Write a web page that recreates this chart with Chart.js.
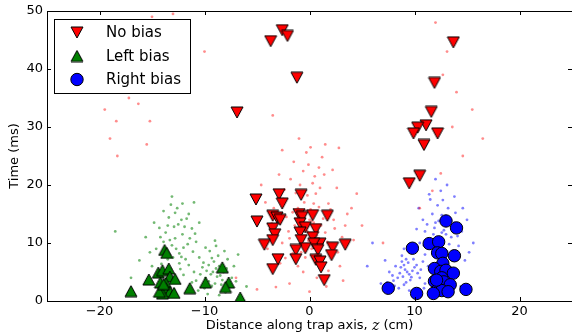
<!DOCTYPE html>
<html>
<head>
<meta charset="utf-8">
<script src="https://cdn.jsdelivr.net/npm/chart.js@4"></script>
<style>
  html, body { margin: 0; padding: 0; background: #fff; overflow: hidden; }
  #wrap { width: 580px; height: 334px; }
</style>
</head>
<body>
<div id="wrap"><canvas id="myChart" width="580" height="334"></canvas></div>
<script>
// axis ticks
const xTicks = [-20, -10, 0, 10, 20];
const yTicks = [0, 10, 20, 30, 40, 50];

// No bias (red, down triangles)
const noBiasX = [-2.6, -2.1, -3.7, -1.2, -6.9, 11.9, 11.6, 11.1, 10.3, 9.9, 12.2, 10.9, 10.5, 9.5, 13.7,
  -5.1, -2.9, -2.6, -0.8, -5.0, -3.5, -3.1, -2.8, -1.0, -0.7, 0.3, 1.7, -3.5, -0.9, -0.4, -3.3, -3.5, -0.9, 0.6,
  -4.3, -0.8, 0.3, 1.0, 0.4, -0.4, -1.3, 0.8, 2.2, 2.1, 3.4, -3.0, -1.3, 0.6, 1.0, 1.1, -3.5, 1.4];
const noBiasY = [46.7, 45.7, 44.8, 38.5, 32.5, 37.6, 32.6, 30.3, 29.9, 28.9, 28.9, 26.9, 21.6, 20.3, 44.6,
  17.5, 18.4, 16.8, 18.3, 13.7, 14.7, 14.4, 14.0, 15.0, 14.5, 14.8, 14.7, 12.5, 13.4, 12.7, 11.5, 10.5, 11.8, 12.4,
  9.7, 10.5, 11.0, 9.9, 9.9, 9.1, 8.8, 8.8, 9.2, 7.9, 9.7, 7.2, 7.2, 7.1, 6.8, 5.8, 5.5, 3.6];

// Left bias (green, up triangles)
const leftBiasX = [-17.0, -13.8, -13.6, -15.3, -14.4, -14.0, -13.4, -13.3, -12.8, -14.2, -13.7, -13.7,
  -13.3, -14.0, -14.3, -11.4, -9.9, -8.3, -7.7, -8.0, -6.6, -13.9, -12.9];
const leftBiasY = [1.7, 8.8, 8.3, 3.7, 4.9, 5.3, 5.6, 4.2, 3.8, 3.2, 3.1, 2.2,
  1.6, 1.3, 1.6, 2.2, 3.2, 5.8, 3.2, 2.4, 0.6, 2.9, 1.4];

// Right bias (blue circles)
const rightBiasX = [13.0, 14.0, 9.8, 11.4, 12.3, 12.2, 12.6, 13.8, 12.7, 11.9, 12.5, 13.0, 13.7,
  11.9, 12.6, 12.8, 13.4, 12.2, 12.6, 13.2, 11.8, 7.5, 10.2, 14.9, 12.1];
const rightBiasY = [13.8, 12.6, 9.1, 9.9, 10.2, 8.3, 8.2, 7.8, 6.5, 5.6, 5.1, 5.3, 4.8,
  3.4, 4.0, 3.3, 2.8, 1.9, 1.8, 1.6, 1.3, 2.2, 1.3, 2.0, 3.6];

// faint background clouds, hand-read [x, y]
const redCloud = [[-0.2,12],[0.4,13.5],[-0.8,11],[0.9,10.5],[-1.4,13],[1.3,14.2],[0.1,15.8],[-0.5,17],[0.6,18.5],
  [-1.1,16],[1.8,16.8],[-2.2,14.5],[2.4,12.5],[-2.6,10],[0.2,9],[-0.4,7.5],[1.1,7],[-1.6,8.2],[2,9.3],[-3,12.2],
  [3.1,11],[-0.9,20],[0.5,21.5],[-0.1,23.5],[1.2,24.8],[-1.8,21],[2.6,19.5],[-3.4,16],[3.6,15],[-0.6,5],[0.7,4],
  [-1.9,3],[1.6,2.5],[-2.8,6.5],[2.9,6],[-4,9],[4.2,10.5],[0.3,11],[-0.3,13],[0.8,12],[-1,14.6],[1.5,11.8],[-2,12],
  [0,14],[0.4,16.8],[-0.7,9.7],[1,19.5],[-1.3,18.6],[2.3,14],[-2.5,17.6],[0.1,26.5],[-1,28],[1.5,27],[-5,14],[5,13],
  [-4.6,20],[4.5,18.5],[-0.5,12.5],[0.2,13.8],[-0.9,14.2],[0.7,11.3],[-0.1,10.4],[0.5,15.2],[-1.2,12.2],[1.1,13],
  [-0.4,15.6],[0.9,16.2],[-1.6,15.3],[-0.2,18.2],[0.3,20.3],[-0.6,22.4],[1.4,21.8],[-2.4,19.2],[2,15.8],[1.7,10.2],
  [-1.9,10.8],[-0.8,8.4],[0.6,8],[-2.3,7.4],[2.7,8.4],[-1.1,6],[1.8,5.2],[-3.6,13.4],[3.4,13],[-2.9,21.8],[0.9,23],
  [-0.3,25.6],[2.2,22.6],[-4.2,17],[4,16],[-1.5,24],[3.2,3.5],[-3.2,2.4],[0,1.6],[-2.6,26],[2.8,26.4],
  [-18.2,48],[-18.8,45],[-17.6,43],[-19.1,40],[-18,37],[-17.2,35],[-19.5,33],[-18.4,31],
  [-16.3,34],[-15.2,31],[-19,28],[-18.3,25],[-15.5,27],[-20.5,36],[-21.2,45],[-15,49],[-13,49.5],[-10,43],
  [-3.5,32],[12,48],[13.1,43],[12.7,39],[14,36],[15.5,33],[13.6,30],[16.5,28],[14.6,25],[12.5,22],[11.7,19],
  [10.5,16],[7,10],[-7,4],[-5,2]];
const greenCloud = [[-12.7,9],[-13.3,10.5],[-12.1,11.5],[-13,7.5],[-12.4,6.5],[-13.8,8.6],[-11.6,9.8],[-12.9,12.8],
  [-12.2,14],[-13.5,13],[-11.2,12.5],[-14.2,11],[-11.8,7.2],[-13.2,5.5],[-12.6,16],[-11.5,15],[-13.9,15.5],[-14.6,9],
  [-10.8,10.2],[-12,4.5],[-13.6,3],[-12.9,2],[-15,6],[-14.8,13.5],[-11,17],[-13.1,18],[-15.6,11],[-16.2,7],[-10.5,13.5],
  [-12.4,8.2],[-13.1,9.6],[-12.8,10.8],[-12.0,9.2],[-13.5,7.2],[-11.9,12.8],[-12.5,13.2],[-13.7,11.8],[-11.4,10.8],
  [-12.3,5.5],[-14.1,6.4],[-11.1,8.5],[-13.4,14.4],[-12.8,15.2],[-12.1,16.8],[-14.3,12.6],[-10.9,11.6],[-15.2,8.4],
  [-12.6,3.6],[-11.5,6.2],[-13.9,10.2],[-12.2,7.6],[-11.7,14.2],[-13.2,16.6],[-14.5,4.8],
  [-9.2,5],[-9.6,6.2],[-8.8,4.2],[-9.9,4],[-8.6,6],[-9.3,7.4],[-10.2,5.8],[-8.2,5],[-9,3],[-10,2.2],[-8.4,2.8],
  [-9.5,8.6],[-7.8,7.2],[-10.5,7.5],[-8.9,9.5],[-7.4,4],[-10.8,3.5],[-7.2,6],[-9.7,1.2],[-8,1.5],[-11,5],[-6.8,8],
  [-9.4,4.6],[-8.9,5.6],[-9.1,6.8],[-9.8,5.2],[-8.5,4.4],[-9.6,3.4],[-8.7,7.8],[-10.1,6.6],[-8.3,3.6],[-9.3,2.6],
  [-7.9,5.6],[-10.4,4.6],[-8.1,8.6],[-9.9,9.2],[-7.6,2.4],[-10.6,1.8],[-9.0,10.4],[-8.6,1.0],[-7.0,3.4],[-11.2,3.2],
  [-17,4],[-18.5,12],[-6,2.5]];
const blueCloud = [[9.3,5],[9,6.2],[9.7,4.1],[8.6,4.8],[10,5.8],[9.2,3.2],[8.2,6],[9.9,7.2],[8.8,7.8],[10.5,4],
  [8,3.5],[9.5,1.8],[7.6,5],[10.8,6.8],[8.5,2.2],[7.2,7],[11,3],[6.8,3],[9,9],[10.2,8.8],
  [9.1,5.4],[9.5,4.6],[8.9,4.2],[9.8,5.2],[9.4,6.6],[8.7,5.8],[10.2,6.2],[9.6,3.6],[8.4,4],[10.3,4.8],[9,2.8],
  [8.8,6.8],[7.9,4.4],[10.6,5.4],[9.2,7.2],[8.1,2.6],[10.9,2.2],[7.4,3.2],
  [12.3,10],[11.8,11.5],[12.8,12.2],[11.5,9],[13.1,8.5],[12,13.5],[13.5,11],[11,12],[12.6,14.8],[13.8,13.5],
  [10.8,14],[12.2,16.5],[11.5,17.5],[13.2,16],[14.2,9.5],[10.5,10],[12.9,6.5],[11.3,6],[14.5,12],[11,8],[12.5,19],
  [13.8,18],[10.4,16],[15,14],[14.8,7],[15.6,10],[13.4,4],[11.6,3],[12.1,1.5],[14.4,2.5],[5.5,6],[6,10],
  [12.1,11],[12.6,11.8],[11.9,12.6],[13,11.5],[12.4,9.2],[11.6,10.4],[13.3,9.8],[12.9,14],[11.7,15],[12.3,13.8],
  [13.6,12.6],[11.2,13.2],[12.7,17.4],[13.9,15.2],[10.9,9.6],[14.1,11.2],[11.4,18.4],[13.1,20],[12,21],[14.6,16],
  [10.2,12.4],[15.2,8.4]];

const FONT = '"DejaVu Sans", sans-serif';
const pts = (xs, ys) => xs.map((x, i) => ({ x: x, y: ys[i] }));
const cloudPts = arr => arr.map(p => ({ x: p[0], y: p[1] }));
const fmt = v => (v < 0 ? '\u2212' + Math.abs(v) : String(v));

// matplotlib-like triangle marker, centred on its bounding box
function triMarker(color, down) {
  const w = 12, h = 11, c = document.createElement('canvas');
  c.width = w + 2; c.height = h + 2;
  const g = c.getContext('2d');
  g.beginPath();
  if (down) { g.moveTo(1, 1); g.lineTo(w + 1, 1); g.lineTo(w / 2 + 1, h + 1); }
  else { g.moveTo(w / 2 + 1, 1); g.lineTo(w + 1, h + 1); g.lineTo(1, h + 1); }
  g.closePath();
  g.fillStyle = color; g.fill();
  g.strokeStyle = '#000'; g.lineWidth = 1; g.lineJoin = 'miter'; g.stroke();
  return c;
}
const downRed = triMarker('#ff0000', true);
const upGreen = triMarker('#008000', false);

// matplotlib style frame + inward ticks + x title
const framePlugin = {
  id: 'frame',
  afterDraw(chart) {
    const { ctx, chartArea: a, scales } = chart;
    ctx.save();
    ctx.strokeStyle = '#000';
    ctx.lineWidth = 1;
    ctx.strokeRect(Math.round(a.left) + 0.5, Math.round(a.top) + 0.5,
      Math.round(a.right - a.left), Math.round(a.bottom - a.top));
    ctx.beginPath();
    xTicks.forEach(v => {
      const x = Math.round(scales.x.getPixelForValue(v)) + 0.5;
      ctx.moveTo(x, a.bottom); ctx.lineTo(x, a.bottom - 4);
      ctx.moveTo(x, a.top); ctx.lineTo(x, a.top + 4);
    });
    yTicks.forEach(v => {
      const y = Math.round(scales.y.getPixelForValue(v)) + 0.5;
      ctx.moveTo(a.left, y); ctx.lineTo(a.left + 4, y);
      ctx.moveTo(a.right, y); ctx.lineTo(a.right - 4, y);
    });
    ctx.stroke();

    const parts = [['Distance along trap axis, ', '13px ' + FONT], ['z', 'italic 14px "DejaVu Serif", serif'], [' (cm)', '13px ' + FONT]];
    let total = 0;
    parts.forEach(p => { ctx.font = p[1]; total += ctx.measureText(p[0]).width; });
    let x = (a.left + a.right) / 2 - total / 2;
    ctx.fillStyle = '#000';
    ctx.textBaseline = 'middle';
    ctx.textAlign = 'left';
    parts.forEach(p => { ctx.font = p[1]; ctx.fillText(p[0], x, 326); x += ctx.measureText(p[0]).width; });
    ctx.restore();
  }
};

// boxed legend in upper left
const legendPlugin = {
  id: 'boxLegend',
  afterDatasetsDraw(chart) {
    const { ctx, chartArea: a } = chart;
    const left = a.left + 7.5, top = a.top + 8.5, w = 136, h = 74;
    ctx.save();
    ctx.fillStyle = '#fff';
    ctx.fillRect(left, top, w, h);
    ctx.strokeStyle = '#000';
    ctx.lineWidth = 1;
    ctx.strokeRect(left, top, w, h);
    [0, 1, 2].forEach(i => {
      const ds = chart.data.datasets[i];
      const cy = top + 13 + i * 23.5;
      ctx.fillStyle = ds.backgroundColor;
      ctx.strokeStyle = '#000';
      ctx.lineWidth = 1;
      Chart.helpers.drawPoint(ctx, { pointStyle: ds.pointStyle, radius: ds.pointRadius, rotation: 0, borderWidth: 1 }, left + 22.5, cy);
      ctx.fillStyle = '#000';
      ctx.font = '15px ' + FONT;
      ctx.textBaseline = 'middle';
      ctx.fillText(ds.label, left + 51.5, cy + 1);
    });
    ctx.restore();
  }
};

const cloudSet = (data, color) => ({
  label: '', data: data, backgroundColor: color, borderWidth: 0, pointRadius: 1.4, order: 10
});

const noPad = s => { s.paddingLeft = 0; s.paddingRight = 0; s.paddingTop = 0; s.paddingBottom = 0; };

const config = {
  type: 'scatter',
  data: {
    datasets: [
      { label: 'No bias', data: pts(noBiasX, noBiasY), pointStyle: downRed,
        pointRadius: 7, backgroundColor: '#ff0000', order: 3 },
      { label: 'Left bias', data: pts(leftBiasX, leftBiasY), pointStyle: upGreen,
        pointRadius: 7, backgroundColor: '#008000', order: 2 },
      { label: 'Right bias', data: pts(rightBiasX, rightBiasY), pointStyle: 'circle',
        pointRadius: 6.2, backgroundColor: '#0000ff', borderColor: '#000', borderWidth: 1, order: 1 },
      cloudSet(cloudPts(redCloud), 'rgba(255,0,0,0.45)'),
      cloudSet(cloudPts(greenCloud), 'rgba(0,128,0,0.55)'),
      cloudSet(cloudPts(blueCloud), 'rgba(0,0,255,0.5)')
    ]
  },
  options: {
    responsive: false,
    animation: false,
    events: [],
    layout: { padding: { top: 11, right: 1, left: 0, bottom: 0 } },
    plugins: { legend: { display: false }, tooltip: { enabled: false } },
    scales: {
      x: {
        type: 'linear', min: -25, max: 25,
        afterBuildTicks: s => { s.ticks = xTicks.map(v => ({ value: v })); },
        afterFit: s => { s.height = 33; noPad(s); },
        grid: { display: false, drawTicks: false },
        border: { display: false },
        ticks: { color: '#000', font: { family: FONT, size: 13 }, padding: 3, callback: fmt, maxRotation: 0 }
      },
      y: {
        type: 'linear', min: 0, max: 50,
        afterBuildTicks: s => { s.ticks = yTicks.map(v => ({ value: v })); },
        afterFit: s => { s.width = 47; noPad(s); },
        grid: { display: false, drawTicks: false },
        border: { display: false },
        title: { display: true, text: 'Time (ms)', color: '#000', font: { family: FONT, size: 13 }, padding: { top: 7, bottom: 0 } },
        ticks: { color: '#000', font: { family: FONT, size: 13 }, padding: 4, callback: fmt }
      }
    }
  },
  plugins: [framePlugin, legendPlugin]
};

const myChart = new Chart(document.getElementById('myChart'), config);
</script>
</body>
</html>
